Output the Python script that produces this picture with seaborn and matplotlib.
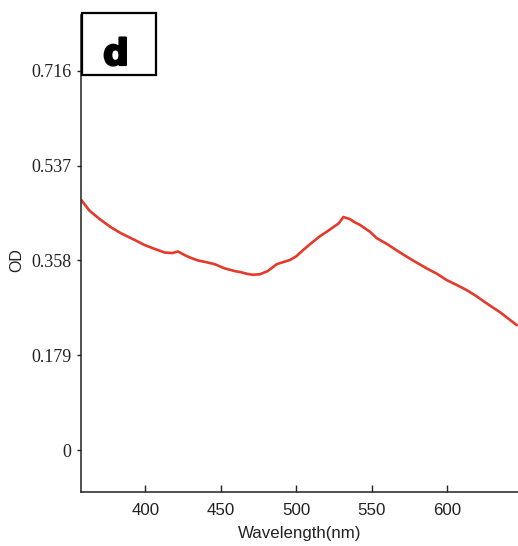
import matplotlib
matplotlib.use("Agg")
import matplotlib.pyplot as plt
import matplotlib.patheffects as pe
from matplotlib.patches import Rectangle
import seaborn as sns
import pandas as pd

# Absorbance spectrum (wavelength in nm, optical density)
wavelength = [357.6, 363.0, 369.8, 377.0, 384.1, 392.0, 399.6, 406.0, 412.8, 418.0,
              421.6, 426.1, 430.0, 434.9, 440.0, 445.9, 452.6, 459.2, 463.0, 467.1,
              471.0, 475.9, 481.0, 487.0, 495.8, 500.0, 504.6, 510.0, 515.7, 520.0,
              524.5, 528.0, 531.1, 535.5, 538.0, 542.1, 548.8, 553.2, 560.0, 566.4,
              576.0, 586.3, 593.0, 599.5, 606.0, 612.8, 619.0, 626.0, 635.0, 645.9]
od = [0.472, 0.452, 0.436, 0.421, 0.409, 0.398, 0.387, 0.380, 0.373, 0.372,
      0.375, 0.368, 0.363, 0.358, 0.355, 0.351, 0.343, 0.338, 0.336, 0.333,
      0.331, 0.332, 0.338, 0.351, 0.359, 0.366, 0.378, 0.391, 0.404, 0.412,
      0.421, 0.428, 0.440, 0.436, 0.431, 0.425, 0.412, 0.400, 0.389, 0.377,
      0.360, 0.343, 0.333, 0.321, 0.312, 0.302, 0.291, 0.277, 0.260, 0.236]

x_ticks = [400, 450, 500, 550, 600]
y_ticks = [0, 0.179, 0.358, 0.537, 0.716]
y_tick_labels = ["0", "0.179", "0.358", "0.537", "0.716"]

df = pd.DataFrame({"Wavelength(nm)": wavelength, "OD": od})

sns.set_style("ticks")
plt.rcParams["font.family"] = ["Liberation Sans", "DejaVu Sans"]

W, H = 518, 546
fig = plt.figure(figsize=(W / 100, H / 100), dpi=100)
ax = fig.add_axes([81 / W, (H - 492) / H, (W - 81) / W, (492 - 15) / H])

sns.lineplot(data=df, x="Wavelength(nm)", y="OD", ax=ax,
             color="#e5392b", linewidth=1.9)

ax.set_xlim(357.4, 646.7)
ax.set_ylim(-0.0787, 0.821)

ax.set_xticks(x_ticks)
ax.set_xticklabels([str(v) for v in x_ticks], fontsize=12.2)
ax.set_yticks(y_ticks)
ax.set_yticklabels(y_tick_labels, fontsize=13,
                   family=["Liberation Serif", "DejaVu Serif"])

ax.tick_params(axis="x", bottom=True, direction="in", length=5, width=1,
               pad=8, colors="#222222")
ax.tick_params(axis="y", left=True, direction="out", length=3, width=1,
               pad=4, colors="#222222")

for side in ("top", "right"):
    ax.spines[side].set_visible(False)
for side in ("left", "bottom"):
    ax.spines[side].set_color("#222222")
    ax.spines[side].set_linewidth(1.1)

ax.set_xlabel("Wavelength(nm)", fontsize=12.2, color="#222222")
ax.xaxis.set_label_coords((300 - 81) / (W - 81), (492 - 526) / (492 - 15))
ax.xaxis.label.set_va("top")
ax.set_ylabel("OD", fontsize=11.5, color="#222222")
ax.yaxis.set_label_coords((24 - 81) / (W - 81), (492 - 260) / (492 - 15))

# panel letter box
fig.patches.append(Rectangle((82 / W, (H - 75) / H), 74 / W, 62 / H,
                             transform=fig.transFigure, fill=True,
                             facecolor="white", edgecolor="black",
                             linewidth=1.6, zorder=5))
fig.text(116 / W, (H - 65) / H, "d", fontsize=26, fontweight="heavy",
         family="DejaVu Sans", ha="center", va="baseline", color="black",
         zorder=6,
         path_effects=[pe.withStroke(linewidth=1.6, foreground="black")])

fig.savefig("out.png", dpi=100)
